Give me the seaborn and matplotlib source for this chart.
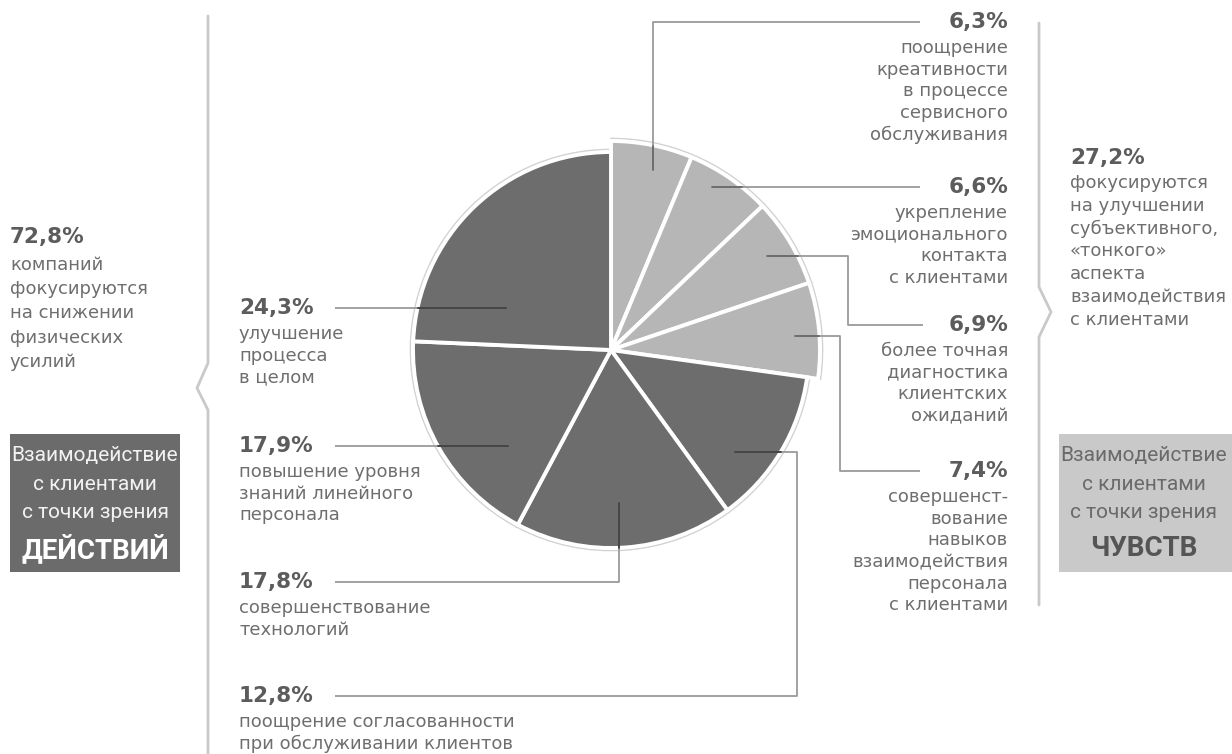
import matplotlib
matplotlib.use("Agg")
import numpy as np
import matplotlib.pyplot as plt
import seaborn as sns
from matplotlib.patches import Rectangle

# Shares of companies by focus of improvement (percent)
values = [6.3, 6.6, 6.9, 7.4, 12.8, 17.8, 17.9, 24.3]
groups = ["feel", "feel", "feel", "feel", "act", "act", "act", "act"]
descriptions = [
    ["поощрение", "креативности", "в процессе", "сервисного", "обслуживания"],
    ["укрепление", "эмоционального", "контакта", "с клиентами"],
    ["более точная", "диагностика", "клиентских", "ожиданий"],
    ["совершенст-", "вование", "навыков", "взаимодействия", "персонала", "с клиентами"],
    ["поощрение согласованности", "при обслуживании клиентов"],
    ["совершенствование", "технологий"],
    ["повышение уровня", "знаний линейного", "персонала"],
    ["улучшение", "процесса", "в целом"],
]
group_totals = {"act": 72.8, "feel": 27.2}
act_text = ["компаний", "фокусируются", "на снижении", "физических", "усилий"]
feel_text = ["фокусируются", "на улучшении", "субъективного,", "«тонкого»",
             "аспекта", "взаимодействия", "с клиентами"]
box_lines = ["Взаимодействие", "с клиентами", "с точки зрения"]
box_titles = {"act": "ДЕЙСТВИЙ", "feel": "ЧУВСТВ"}

sns.set_theme(style="white")
plt.rcParams["font.family"] = ["DejaVu Sans"]
NARROW = ["Roboto", "DejaVu Sans"]

DARK = "#6d6d6d"
LIGHT = "#b6b6b6"
PCT_C = "#5c5c5c"
TXT_C = "#6e6e6e"
LINE_C = "#9a9a9a"

fig = plt.figure(figsize=(12.32, 7.54), dpi=100)
ax = fig.add_axes([0, 0, 1, 1])

cx, cy = 611, 350
r_act, r_feel = 198, 209
colors = [LIGHT if g == "feel" else DARK for g in groups]

# faint outline ring behind the pie
outline, _ = ax.pie(values, startangle=-90, counterclock=True, center=(cx, cy),
                    radius=r_act + 2.5, colors=["none"] * len(values),
                    wedgeprops=dict(edgecolor="#d2d2d2", linewidth=1.2))
wedges, _ = ax.pie(values, startangle=-90, counterclock=True, center=(cx, cy),
                   radius=r_act, colors=colors,
                   wedgeprops=dict(edgecolor="white", linewidth=2.8))
for w, wo, g in zip(wedges, outline, groups):
    if g == "feel":
        w.set_radius(r_feel)
        wo.set_radius(r_feel + 2.5)

ax.set_xlim(0, 1232)
ax.set_ylim(754, 0)
ax.set_aspect("equal")
ax.axis("off")

# label layout: connector path, text anchor x, alignment
layout = [
    ([(653, 170), (653, 22), (920, 22)], 1008, "right"),
    ([(712, 187), (920, 187)], 1008, "right"),
    ([(767, 256), (848, 256), (848, 325), (923, 325)], 1008, "right"),
    ([(795, 336), (840, 336), (840, 471), (920, 471)], 1008, "right"),
    ([(735, 452), (797, 452), (797, 696), (335, 696)], 239, "left"),
    ([(619, 503), (619, 582), (335, 582)], 239, "left"),
    ([(508, 446), (335, 446)], 239, "left"),
    ([(506, 308), (335, 308)], 239, "left"),
]

for v, desc, g, (path, tx, ha) in zip(values, descriptions, groups, layout):
    xs = [p[0] for p in path]
    ys = [p[1] for p in path]
    ax.plot(xs, ys, color=LINE_C, lw=1.3, solid_capstyle="butt", zorder=3)
    # darker tone where the connector crosses the pie
    r = r_feel if g == "feel" else r_act
    t = np.linspace(0, 1, 400)
    px = xs[0] + (xs[1] - xs[0]) * t
    py_ = ys[0] + (ys[1] - ys[0]) * t
    inside = np.hypot(px - cx, py_ - cy) <= r
    inner = "#3e3e3e" if g == "act" else "#6a6a6a"
    ax.plot(px[inside], py_[inside], color=inner, lw=1.3, zorder=4)

    py = path[-1][1]
    pct = f"{v:.1f}%".replace(".", ",")
    ax.text(tx, py, pct, ha=ha, va="center", fontsize=15.5,
            fontweight="bold", color=PCT_C, zorder=5)
    for i, line in enumerate(desc):
        ax.text(tx, py + 26 + i * 21.7, line, ha=ha, va="center",
                fontsize=13, color=TXT_C, zorder=5)

# group summaries
ax.text(10, 237, f"{group_totals['act']:.1f}%".replace(".", ","), ha="left",
        va="center", fontsize=15.5, fontweight="bold", color=PCT_C)
for i, line in enumerate(act_text):
    ax.text(10, 265 + i * 24.2, line, ha="left", va="center", fontsize=13, color=TXT_C)

ax.text(1070, 158, f"{group_totals['feel']:.1f}%".replace(".", ","), ha="left",
        va="center", fontsize=15.5, fontweight="bold", color=PCT_C)
for i, line in enumerate(feel_text):
    ax.text(1070, 183 + i * 22.8, line, ha="left", va="center", fontsize=13, color=TXT_C)

# brackets
BR = "#c9c9c9"
ax.plot([208, 208, 197, 208, 208], [16, 363, 388, 410, 754], color=BR, lw=2, zorder=2)
ax.plot([1039, 1039, 1051, 1039, 1039], [23, 287, 312, 337, 605], color=BR, lw=2, zorder=2)

# boxes
for x0, w, face, fg, title_c, key in [(10, 170, "#6b6b6b", "#f2f2f2", "#ffffff", "act"),
                                       (1059, 180, "#c9c9c9", "#6a6a6a", "#555555", "feel")]:
    ax.add_patch(Rectangle((x0, 434), w, 138, facecolor=face, edgecolor="none", zorder=1))
    xc = 95 if key == "act" else 1144
    for i, line in enumerate(box_lines):
        ax.text(xc, 456 + i * 28.5, line, ha="center", va="center", fontsize=15,
                color=fg, family=NARROW, zorder=5)
    ax.text(xc, 549, box_titles[key], ha="center", va="center", fontsize=20,
            fontweight="bold", color=title_c, family=NARROW, zorder=5)

fig.savefig("out.png", dpi=100, facecolor="white")
